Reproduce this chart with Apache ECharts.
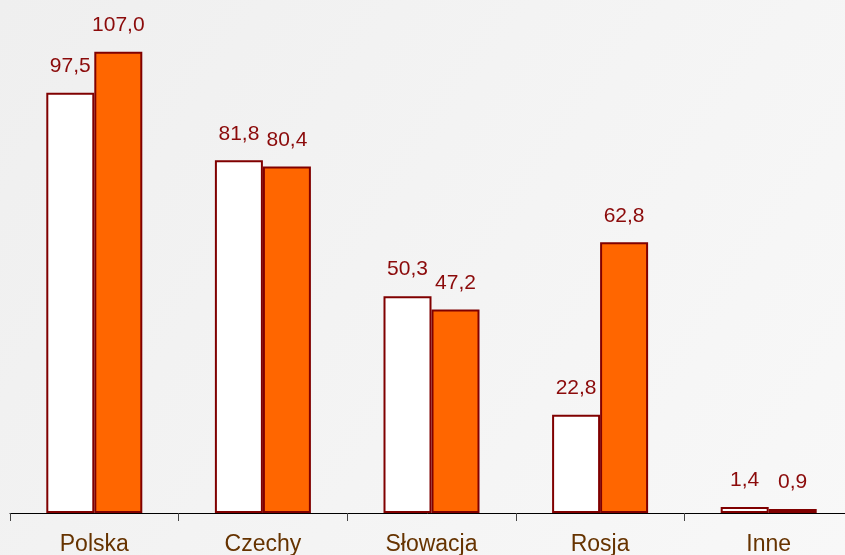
<!DOCTYPE html>
<html>
<head>
<meta charset="utf-8">
<script src="https://cdn.jsdelivr.net/npm/echarts@6/dist/echarts.min.js"></script>
<style>
html, body { margin: 0; padding: 0; }
#main { width: 845px; height: 555px; }
</style>
</head>
<body>
<div id="main"></div>
<script>
var categories = ['Polska', 'Czechy', 'Słowacja', 'Rosja', 'Inne'];
var values1 = [97.5, 81.8, 50.3, 22.8, 1.4];
var values2 = [107.0, 80.4, 47.2, 62.8, 0.9];

var myChart = echarts.init(document.getElementById('main'));

function fmt(p) {
	return p.value.toFixed(1).replace('.', ',');
}

var labelStyle = {
	show: true,
	position: 'top',
	distance: 16,
	color: '#8b0a0a',
	fontSize: 21,
	fontFamily: 'Liberation Sans, Arial, sans-serif',
	formatter: fmt
};

var option = {
	backgroundColor: {
		type: 'linear', x: 0, y: 0, x2: 1, y2: 1,
		colorStops: [{ offset: 0, color: '#efefef' }, { offset: 1, color: '#f8f8f8' }]
	},
	animation: false,
	grid: {
		left: 10,
		top: 0,
		width: 843,
		bottom: 42,
		outerBoundsMode: 'none',
		containLabel: false
	},
	xAxis: {
		type: 'category',
		data: categories,
		axisLine: { lineStyle: { color: '#000', width: 1 } },
		axisTick: { show: true, length: 8, lineStyle: { color: '#444' } },
		axisLabel: {
			color: '#663300',
			fontSize: 23,
			margin: 20,
			fontFamily: 'Liberation Sans, Arial, sans-serif'
		}
	},
	yAxis: {
		type: 'value',
		show: false,
		min: 0,
		max: 119
	},
	series: [{
		type: 'bar',
		data: values1,
		barWidth: 48,
		barGap: '0%',
		itemStyle: { color: '#ffffff', borderColor: '#800000', borderWidth: 2 },
		label: labelStyle
	}, {
		type: 'bar',
		data: values2,
		barWidth: 48,
		itemStyle: { color: '#ff6600', borderColor: '#800000', borderWidth: 2 },
		label: labelStyle
	}]
};
myChart.setOption(option);
</script>
</body>
</html>
